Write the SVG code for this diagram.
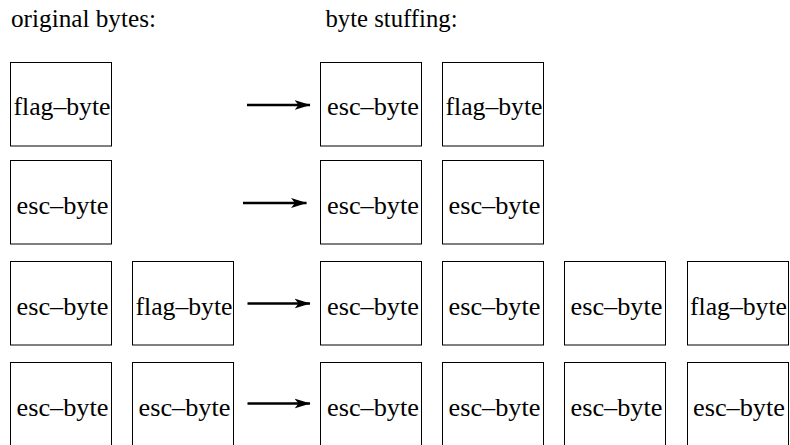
<svg xmlns="http://www.w3.org/2000/svg" width="790" height="445" viewBox="0 0 790 445">
<style>
text{font-family:'Liberation Serif','Times New Roman',serif;font-size:26px;fill:#000}
.lbl{text-anchor:middle}
.box{fill:#fff;stroke:#000;stroke-width:1}
.arr{stroke:#000;stroke-width:2.4;fill:none;marker-end:url(#ah)}
</style>
<defs>
<marker id="ah" viewBox="0 0 16 11" refX="15.5" refY="5.5" markerWidth="16" markerHeight="11" markerUnits="userSpaceOnUse" orient="auto">
<path d="M0,0.5 L16,5.5 L0,10.5 L4,5.5 Z" fill="#000"/>
</marker>
</defs>
<rect width="790" height="445" fill="#fff"/>
<text x="11" y="27" textLength="145" lengthAdjust="spacingAndGlyphs">original bytes:</text>
<text x="325.5" y="27" textLength="132" lengthAdjust="spacingAndGlyphs">byte stuffing:</text>

<g id="o1a"><rect class="box" x="10.5" y="62.5" width="101" height="83.5"/><text class="lbl" x="62" y="115" textLength="97" lengthAdjust="spacingAndGlyphs">flag–byte</text></g>
<g id="o2a"><rect class="box" x="10.5" y="160.5" width="101" height="83.5"/><text class="lbl" x="62.5" y="213.5" textLength="92" lengthAdjust="spacingAndGlyphs">esc–byte</text></g>
<g id="o3a"><rect class="box" x="10.5" y="261.5" width="101" height="83.5"/><text class="lbl" x="62.5" y="315" textLength="92" lengthAdjust="spacingAndGlyphs">esc–byte</text></g>
<g id="o3b"><rect class="box" x="132.5" y="261.5" width="101" height="83.5"/><text class="lbl" x="184" y="315" textLength="97" lengthAdjust="spacingAndGlyphs">flag–byte</text></g>
<g id="o4a"><rect class="box" x="10.5" y="362.5" width="101" height="90"/><text class="lbl" x="62.5" y="415.5" textLength="92" lengthAdjust="spacingAndGlyphs">esc–byte</text></g>
<g id="o4b"><rect class="box" x="132.5" y="362.5" width="101" height="90"/><text class="lbl" x="184.5" y="415.5" textLength="92" lengthAdjust="spacingAndGlyphs">esc–byte</text></g>

<g id="s1a"><rect class="box" x="320.5" y="62.5" width="101" height="83.5"/><text class="lbl" x="373" y="115" textLength="92" lengthAdjust="spacingAndGlyphs">esc–byte</text></g>
<g id="s1b"><rect class="box" x="442.5" y="62.5" width="101" height="83.5"/><text class="lbl" x="494" y="115" textLength="97" lengthAdjust="spacingAndGlyphs">flag–byte</text></g>
<g id="s2a"><rect class="box" x="320.5" y="160.5" width="101" height="83.5"/><text class="lbl" x="373" y="213.5" textLength="92" lengthAdjust="spacingAndGlyphs">esc–byte</text></g>
<g id="s2b"><rect class="box" x="442.5" y="160.5" width="101" height="83.5"/><text class="lbl" x="494.5" y="213.5" textLength="92" lengthAdjust="spacingAndGlyphs">esc–byte</text></g>
<g id="s3a"><rect class="box" x="320.5" y="261.5" width="101" height="83.5"/><text class="lbl" x="373" y="315" textLength="92" lengthAdjust="spacingAndGlyphs">esc–byte</text></g>
<g id="s3b"><rect class="box" x="442.5" y="261.5" width="101" height="83.5"/><text class="lbl" x="494.5" y="315" textLength="92" lengthAdjust="spacingAndGlyphs">esc–byte</text></g>
<g id="s3c"><rect class="box" x="564.5" y="261.5" width="101" height="83.5"/><text class="lbl" x="616.5" y="315" textLength="92" lengthAdjust="spacingAndGlyphs">esc–byte</text></g>
<g id="s3d"><rect class="box" x="687.5" y="261.5" width="101" height="83.5"/><text class="lbl" x="738.5" y="315" textLength="97" lengthAdjust="spacingAndGlyphs">flag–byte</text></g>
<g id="s4a"><rect class="box" x="320.5" y="362.5" width="101" height="90"/><text class="lbl" x="373" y="415.5" textLength="92" lengthAdjust="spacingAndGlyphs">esc–byte</text></g>
<g id="s4b"><rect class="box" x="442.5" y="362.5" width="101" height="90"/><text class="lbl" x="494.5" y="415.5" textLength="92" lengthAdjust="spacingAndGlyphs">esc–byte</text></g>
<g id="s4c"><rect class="box" x="564.5" y="362.5" width="101" height="90"/><text class="lbl" x="616.5" y="415.5" textLength="92" lengthAdjust="spacingAndGlyphs">esc–byte</text></g>
<g id="s4d"><rect class="box" x="687.5" y="362.5" width="101" height="90"/><text class="lbl" x="739" y="415.5" textLength="92" lengthAdjust="spacingAndGlyphs">esc–byte</text></g>

<g id="connectors">
<line class="arr" x1="247" y1="105" x2="310" y2="105"/>
<line class="arr" x1="243" y1="203" x2="306.5" y2="203"/>
<line class="arr" x1="247.5" y1="303.5" x2="310" y2="303.5"/>
<line class="arr" x1="247.5" y1="403.5" x2="310" y2="403.5"/>
</g>
</svg>
